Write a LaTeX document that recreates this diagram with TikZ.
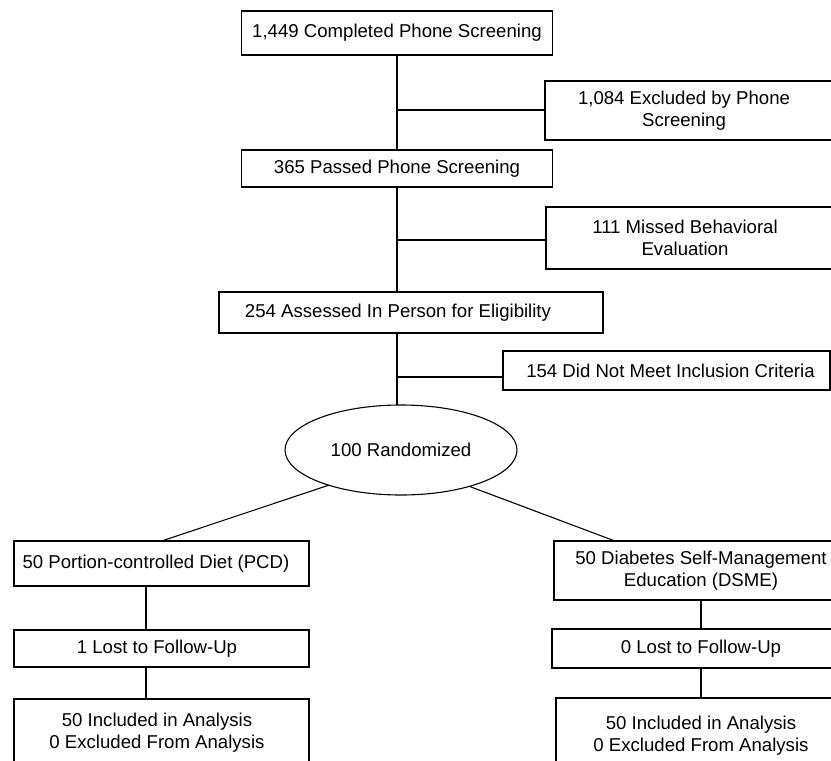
\documentclass[tikz,border=0pt]{standalone}
\usepackage{fontspec}
\setmainfont{Liberation Sans}
\usetikzlibrary{positioning,shapes.geometric}

\begin{document}
\begin{tikzpicture}
[x=1pt,y=-1pt,
 every node/.style={draw=black,line width=1.1pt,inner sep=0pt,outer sep=0pt,align=center,
                    font=\fontsize{18.6pt}{22pt}\selectfont},
 box/.style={rectangle},
 hub/.style={ellipse},
 line width=1.1pt]
\useasboundingbox (0,0) rectangle (831,761);
\clip (0,0) rectangle (831,761);
\node[box, minimum width=311pt, minimum height=44pt] (scr)   at (397,33)     {1,449 Completed Phone Screening};
\node[box, minimum width=289pt, minimum height=59pt] (exA)   at (689.5,110.5){\hspace*{-11pt}1,084 Excluded by Phone\\\hspace*{-11pt}Screening};
\node[box, minimum width=311pt, minimum height=37pt] (pass)  at (397,168.5)  {365 Passed Phone Screening};
\node[box, minimum width=288pt, minimum height=62pt] (miss)  at (690,238)    {\hspace*{-10pt}111 Missed Behavioral\\\hspace*{-10pt}Evaluation};
\node[box, minimum width=384pt, minimum height=41pt] (asse)  at (411,312.5)  {\hspace*{-26pt}254 Assessed In Person for Eligibility};
\node[box, minimum width=327pt, minimum height=39pt] (incl)  at (666.5,370.5){\hspace*{8pt}154 Did Not Meet Inclusion Criteria};
\node[hub, minimum width=232pt, minimum height=90pt] (rand)  at (401,450)    {100 Randomized};
\node[box, minimum width=295pt, minimum height=45pt] (pcd)   at (161.5,563.5){\hspace*{-11pt}50 Portion-controlled Diet (PCD)};
\node[box, minimum width=294pt, minimum height=59pt] (dsme)  at (701,570.5)  {50 Diabetes Self-Management\\Education (DSME)};
\node[box, minimum width=298pt, minimum height=39pt] (lostR) at (701,648.5)  {0 Lost to Follow-Up};
\node[box, minimum width=295pt, minimum height=37pt] (lostL) at (161.5,648.5){\hspace*{-9pt}1 Lost to Follow-Up};
\node[box, minimum width=295pt, minimum height=67pt] (anaL)  at (161.5,732.5){\hspace*{-9pt}50 Included in Analysis\\\hspace*{-9pt}0 Excluded From Analysis};
\node[box, minimum width=290pt, minimum height=75pt] (anaR)  at (701,735.5)  {50 Included in Analysis\\0 Excluded From Analysis};
\coordinate (b1) at (397,110);
\coordinate (b2) at (397,240);
\coordinate (b3) at (397,377);
\path (scr.south)  edge (pass.north);
\path (pass.south) edge (pass.south |- asse.north);
\path (pass.south |- asse.south) edge (pass.south |- rand.north);
\path (b1) edge (b1 -| exA.west);
\path (b2) edge (b2 -| miss.west);
\path (b3) edge (b3 -| incl.west);
\path (rand.206) edge (pcd.north);
\path (rand.-28) edge ([xshift=61pt]dsme.north west);
\path ([xshift=-15.5pt]pcd.south)   edge ([xshift=-15.5pt]lostL.north);
\path ([xshift=-15.5pt]lostL.south) edge ([xshift=-15.5pt]anaL.north);
\path (dsme.south)  edge (lostR.north);
\path (lostR.south) edge (anaR.north);
\end{tikzpicture}
\end{document}
